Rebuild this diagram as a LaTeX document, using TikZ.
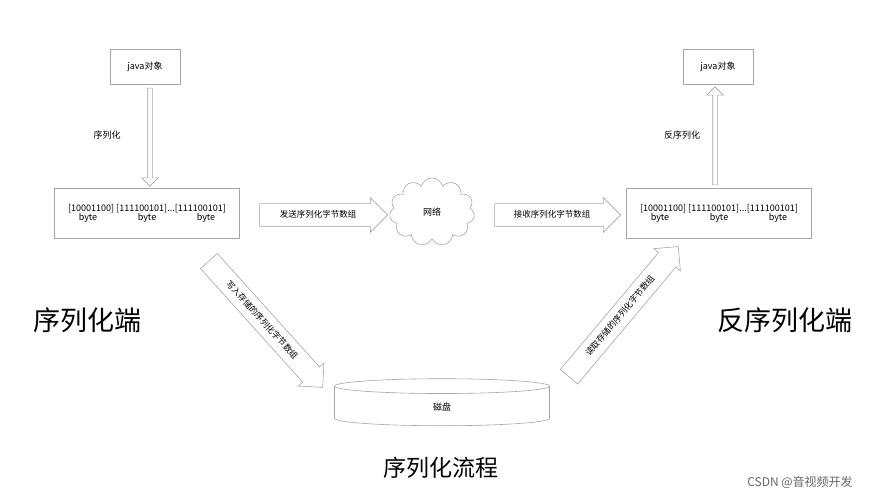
\documentclass[tikz,border=0pt]{standalone}
\usepackage{fontspec}
\setmainfont{Noto Sans CJK SC}
\usetikzlibrary{shapes.arrows,shapes.symbols,shapes.geometric}
\newcommand{\bytes}{[10001100] [111100101]...[111100101]\\[-2pt]\makebox[58pt]{byte}\makebox[60pt]{byte}\makebox[58pt]{byte}}
\begin{document}
\begin{tikzpicture}[x=1pt,y=-1pt,
  box/.style={draw=gray!70,line width=0.6pt,font=\fontsize{9}{11}\selectfont,inner sep=0},
  barrow/.style={single arrow,draw=gray!70,line width=0.6pt,font=\fontsize{8.5}{10}\selectfont,
    single arrow head extend=6pt,inner xsep=2pt,inner ysep=6pt,text height=8pt,text depth=2pt,anchor=center},
  big/.style={font=\fontsize{27}{30}\selectfont}]
\useasboundingbox (0,0) rectangle (879,502);
\node[box,minimum width=70,minimum height=35] (j1) at (145,67) {java对象};
\node[box,minimum width=70,minimum height=35] (j2) at (718,67) {java对象};
\node[box,minimum width=185,minimum height=50,align=center] (b1) at (147,213) {\bytes};
\node[box,minimum width=185,minimum height=50,align=center] (b2) at (719,213) {\bytes};
\node[cloud,draw=gray!70,line width=0.6pt,cloud puffs=11,minimum width=85,minimum height=68,aspect=1.3,font=\fontsize{9}{11}\selectfont] (net) at (432,212) {网络};
\node[cylinder,draw=gray!70,line width=0.6pt,shape border rotate=90,aspect=0.6,minimum width=215,minimum height=47,font=\fontsize{9}{11}\selectfont] (disk) at (442,407) {磁盘};
\node[barrow,minimum height=98,shape border rotate=270,text width=0pt] (a1) at (150,136) {};
\node[barrow,minimum height=98,shape border rotate=90,text width=0pt] (a2) at (715,137) {};
\node[font=\fontsize{9}{11}\selectfont] (l1) at (107,135) {序列化};
\node[font=\fontsize{9}{11}\selectfont] (l2) at (682,135) {反序列化};
\node[barrow,minimum height=128] (s1) at (318,215) {发送序列化字节数组};
\node[barrow,minimum height=126] (s2) at (552,215) {接收序列化字节数组};
\node[barrow,minimum height=170,rotate=-48] (d1) at (262,320) {写入存储的序列化字节数组};
\node[barrow,minimum height=170,rotate=50] (d2) at (620,316) {读取存储的序列化字节数组};
\node[big] (t1) at (88,320) {序列化端};
\node[big] (t2) at (785,320) {反序列化端};
\node[font=\fontsize{23}{26}\selectfont] (t3) at (441,468) {序列化流程};
\node[font=\fontsize{12}{14}\selectfont,text=gray!80!black] (w) at (800,482) {CSDN @音视频开发};
\end{tikzpicture}
\end{document}
